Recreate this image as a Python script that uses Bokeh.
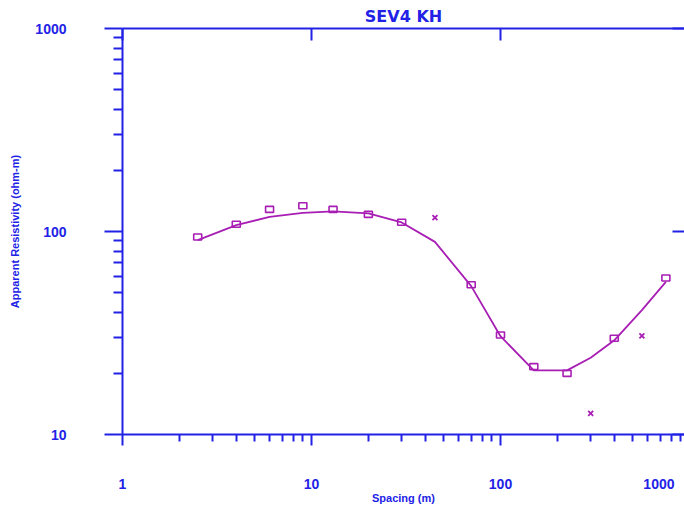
from bokeh.plotting import figure
from bokeh.models import LogAxis, FixedTicker, Range1d, Label
from bokeh.embed import file_html
from bokeh.resources import INLINE

# ---- data ----
title_text = "SEV4 KH"
x_label = "Spacing (m)"
y_label = "Apparent Resistivity (ohm-m)"

x_ticks = [1, 10, 100, 1000]
x_tick_labels = ["1", "10", "100", "1000"]
y_ticks = [10, 100, 1000]
y_tick_labels = ["10", "100", "1000"]

obs_spacing = [2.5, 4, 6, 9, 13, 20, 30, 70, 100, 150, 225, 400, 750]
obs_rho = [94, 108.5, 128.5, 134, 128.5, 121.5, 111, 54.7, 30.9, 21.6, 20.0, 29.8, 59]

masked_spacing = [45, 300, 560]
masked_rho = [117, 12.7, 30.6]

model_spacing = [2.5, 4, 6, 9, 13, 20, 30, 45, 70, 100, 150, 225, 300, 400, 560, 750]
model_rho = [90.6, 107.4, 118, 123.6, 125.7, 122.8, 110.8, 88.9, 53.8, 30.5, 20.7, 20.7, 23.9, 29.1, 41, 56.5]

# ---- style ----
BLUE = "#2222E6"
PURPLE = "#A81EB4"
FONT = "Liberation Sans"

x_end = 941
y_start = 10
p = figure(frame_width=562, frame_height=406,
           x_axis_type="log", y_axis_type="log",
           x_range=Range1d(1, x_end), y_range=Range1d(y_start, 1000),
           output_backend="svg", toolbar_location=None,
           min_border_left=122, min_border_right=0,
           min_border_top=28, min_border_bottom=0)
p.outline_line_color = None
p.xgrid.visible = False
p.ygrid.visible = False
p.background_fill_color = "white"
p.border_fill_color = "white"

p.title.text = title_text
p.title.align = "center"
p.title.offset = 4
p.title.text_color = BLUE
p.title.text_font = "DejaVu Sans"
p.title.text_font_size = "16px"
p.title.text_font_style = "bold"
p.title.standoff = 5

def minors(decades):
    out = []
    for d in decades:
        for m in range(2, 10):
            out.append(m * d)
    return out

xt = FixedTicker(ticks=x_ticks, minor_ticks=minors([1, 10, 100]))
yt = FixedTicker(ticks=y_ticks, minor_ticks=minors([10, 100]))

xa = p.xaxis[0]
xa.ticker = xt
xa.major_label_overrides = {t: l for t, l in zip(x_ticks, x_tick_labels)}
xa.axis_label = x_label
ya = p.yaxis[0]
ya.ticker = yt
ya.major_label_overrides = {t: l for t, l in zip(y_ticks, y_tick_labels)}
ya.axis_label = y_label

for ax in (xa, ya):
    ax.axis_line_color = BLUE
    ax.axis_line_width = 2
    ax.major_tick_line_color = BLUE
    ax.minor_tick_line_color = BLUE
    ax.major_tick_line_width = 2
    ax.minor_tick_line_width = 2
    ax.major_tick_in = 0
    ax.minor_tick_in = 0
    ax.major_label_text_color = BLUE
    ax.major_label_text_font = FONT
    ax.major_label_text_font_size = "14px"
    ax.major_label_text_font_style = "bold"
    ax.axis_label_text_color = BLUE
    ax.axis_label_text_font = FONT
    ax.axis_label_text_font_size = "11px"
    ax.axis_label_text_font_style = "bold"

xa.major_tick_out = 11
xa.minor_tick_out = 7
xa.major_label_standoff = 33
xa.axis_label_standoff = 0

ya.major_tick_out = 18
ya.minor_tick_out = 9
ya.major_label_standoff = 38
ya.axis_label_standoff = 11

# top and right frame axes (ticks inward, no labels)
top = LogAxis(ticker=FixedTicker(ticks=x_ticks, minor_ticks=[]))
right = LogAxis(ticker=FixedTicker(ticks=y_ticks, minor_ticks=[]))
for ax in (top, right):
    ax.major_tick_in = 12
    ax.major_tick_out = 0
    ax.minor_tick_in = 0
    ax.minor_tick_out = 0
    ax.major_tick_line_color = BLUE
    ax.major_tick_line_width = 2
    ax.major_label_text_font_size = "1px"
    ax.major_label_text_color = None
    ax.major_label_standoff = 0
    ax.axis_label_standoff = 0
top.axis_line_color = BLUE
top.axis_line_width = 2
right.axis_line_color = None
p.add_layout(top, "above")
p.add_layout(right, "right")

# tick labels whose tick lies past the visible frame edge
for t, lab in zip(x_ticks, x_tick_labels):
    if t > x_end:
        p.add_layout(Label(x=t, y=33, x_units="data", y_units="screen",
                           x_offset=-15, text=lab,
                           text_align="right", text_baseline="middle",
                           text_color=BLUE, text_font=FONT,
                           text_font_size="14px", text_font_style="bold"), "below")

# ---- data marks ----
p.line(model_spacing, model_rho, line_color=PURPLE, line_width=1.8)
p.rect(obs_spacing, obs_rho, width=8, height=6, width_units="screen",
       height_units="screen", fill_color=None, line_color=PURPLE, line_width=1.6)
p.scatter(masked_spacing, masked_rho, marker="x", size=7,
          line_color=PURPLE, line_width=1.8)

open("out.html", "w").write(file_html(p, INLINE))
